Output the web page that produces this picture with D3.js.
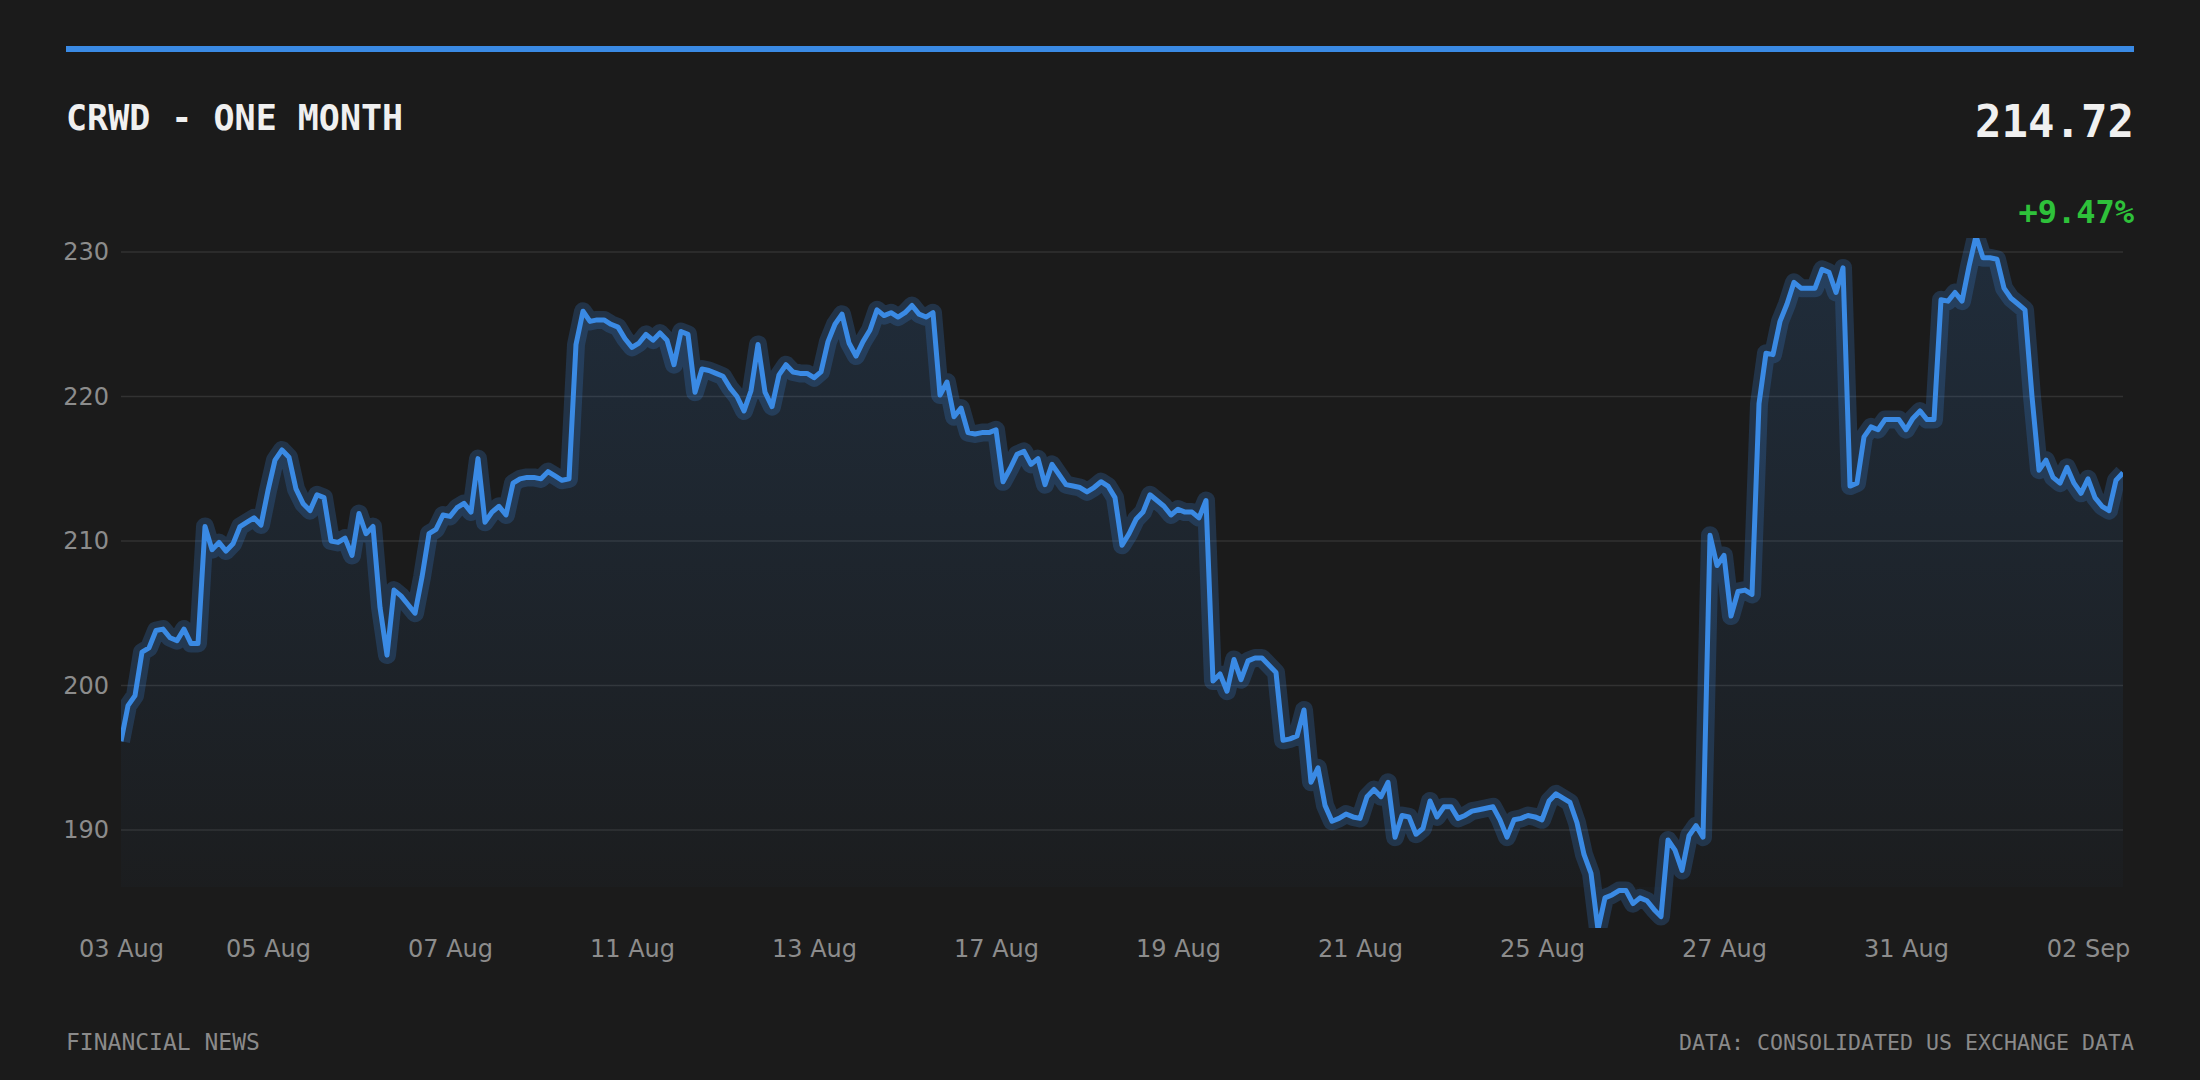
<!DOCTYPE html>
<html>
<head>
<meta charset="utf-8">
<script src="https://cdn.jsdelivr.net/npm/d3@7"></script>
<style>
  html, body { margin: 0; padding: 0; background: #1b1b1b; }
  svg { display: block; }
</style>
</head>
<body>
<svg id="chart" width="2200" height="1080"></svg>
<script>
// Trading sessions shown on the chart and how many 30-min bars each one has
const sessions = ['03 Aug', '04 Aug', '05 Aug', '06 Aug', '07 Aug', '10 Aug', '11 Aug', '12 Aug',
    '13 Aug', '14 Aug', '17 Aug', '18 Aug', '19 Aug', '20 Aug', '21 Aug', '24 Aug', '25 Aug',
    '26 Aug', '27 Aug', '28 Aug', '31 Aug', '01 Sep', '02 Sep'];
const sessionBars = [8, 13, 13, 13, 13, 13, 13, 13, 13, 13, 13, 13, 13, 13, 13, 13, 13, 13, 13, 13, 13, 13, 6];

// Close of each bar
const prices = [
    196.14, 198.6, 199.3, 202.3, 202.6, 203.8, 203.9, 203.3,
    203.1, 203.9, 202.9, 202.9, 211.0, 209.4, 209.9, 209.3, 209.8, 211.0, 211.3, 211.6, 211.1,
    213.5, 215.6, 216.3, 215.8, 213.6, 212.6, 212.1, 213.2, 213.0, 210.0, 209.9, 210.2, 209.0,
    211.9, 210.5, 211.0, 205.4, 202.1, 206.6, 206.2, 205.6, 205.0, 207.5, 210.5, 210.8, 211.8,
    211.7, 212.3, 212.6, 212.0, 215.7, 211.3, 212.0, 212.4, 211.8, 214.0, 214.3, 214.4, 214.4,
    214.3, 214.8, 214.5, 214.2, 214.3, 223.6, 225.9, 225.2, 225.3, 225.3, 225.0, 224.8, 224.0,
    223.4, 223.7, 224.3, 223.9, 224.4, 223.9, 222.2, 224.5, 224.3, 220.3, 221.9, 221.8, 221.6,
    221.4, 220.6, 220.0, 219.0, 220.4, 223.6, 220.3, 219.3, 221.5, 222.2, 221.7, 221.6, 221.6,
    221.3, 221.7, 223.8, 225.0, 225.7, 223.7, 222.8, 223.8, 224.6, 226.0, 225.6, 225.8, 225.5,
    225.8, 226.3, 225.7, 225.5, 225.8, 220.1, 221.0, 218.6, 219.2, 217.5, 217.4, 217.5, 217.5,
    217.7, 214.1, 215.0, 216.0, 216.2, 215.3, 215.7, 213.9, 215.3, 214.6, 213.9, 213.8, 213.7,
    213.4, 213.7, 214.1, 213.8, 213.0, 209.7, 210.5, 211.5, 212.0, 213.2, 212.8, 212.4, 211.8,
    212.2, 212.0, 212.0, 211.6, 212.8, 200.3, 200.8, 199.6, 201.8, 200.4, 201.7, 201.9, 201.9,
    201.4, 200.9, 196.2, 196.3, 196.5, 198.3, 193.3, 194.3, 191.7, 190.6, 190.8, 191.1, 190.9,
    190.8, 192.3, 192.8, 192.3, 193.3, 189.5, 191.0, 190.9, 189.7, 190.1, 192.0, 190.9, 191.6,
    191.6, 190.8, 191.0, 191.3, 191.4, 191.5, 191.6, 190.7, 189.5, 190.7, 190.8, 191.0, 190.9,
    190.7, 192.0, 192.5, 192.2, 191.9, 190.5, 188.3, 187.0, 183.1, 185.3, 185.5, 185.8, 185.8,
    184.9, 185.3, 185.1, 184.5, 184.0, 189.3, 188.6, 187.2, 189.6, 190.3, 189.5, 210.4, 208.3,
    209.0, 204.8, 206.5, 206.6, 206.3, 219.5, 223.0, 222.9, 225.2, 226.4, 227.9, 227.5, 227.5,
    227.5, 228.8, 228.6, 227.2, 228.9, 213.8, 214.0, 217.2, 217.9, 217.7, 218.4, 218.4, 218.4,
    217.7, 218.5, 219.0, 218.4, 218.4, 226.7, 226.6, 227.2, 226.6, 229.0, 231.1, 229.6, 229.6,
    229.5, 227.5, 226.8, 226.4, 226.0, 220.0, 214.9, 215.6, 214.4, 214.0, 215.1, 214.0, 213.3,
    214.3, 213.0, 212.4, 212.1, 214.2, 214.72
];

const yTicks = [190, 200, 210, 220, 230];
const yDomain = [186.05, 230.97];

const titleText = 'CRWD - ONE MONTH';
const lastPriceText = '214.72';
const changeText = '+9.47%';
const sourceLeft = 'FINANCIAL NEWS';
const sourceRight = 'DATA: CONSOLIDATED US EXCHANGE DATA';

const blue = '#3a8ae4';
const mono = "'DejaVu Sans Mono', monospace";
const sans = "'DejaVu Sans', sans-serif";

const svg = d3.select('#chart');

// plot box
const plotLeft = 121, plotRight = 2123;
const plotTop = 238, plotBottom = 928, areaBase = 887;

const x = d3.scaleLinear()
    .domain([0, prices.length - 1])
    .range([plotLeft, plotRight]);

const y = d3.scaleLinear()
    .domain(yDomain)
    .range([areaBase, plotTop]);

// first bar index of every session, ticks on every other session
const sessionStart = [];
sessionBars.reduce((acc, n, i) => { sessionStart[i] = acc; return acc + n; }, 0);
const tickIdx = sessionStart.filter((s, i) => i % 2 === 0);
const tickLabel = {};
sessions.forEach((s, i) => { tickLabel[sessionStart[i]] = s; });

// Header
svg.append('rect')
    .attr('x', 66).attr('y', 46)
    .attr('width', 2134 - 66).attr('height', 6)
    .attr('fill', blue);

svg.append('text')
    .attr('x', 66).attr('y', 130)
    .attr('font-family', mono).attr('font-weight', 'bold')
    .attr('font-size', 35).attr('fill', '#f0f0f0')
    .text(titleText);

svg.append('text')
    .attr('x', 2134).attr('y', 137)
    .attr('text-anchor', 'end')
    .attr('font-family', mono).attr('font-weight', 'bold')
    .attr('font-size', 44).attr('fill', '#f0f0f0')
    .text(lastPriceText);

svg.append('text')
    .attr('x', 2134).attr('y', 223)
    .attr('text-anchor', 'end')
    .attr('font-family', mono).attr('font-weight', 'bold')
    .attr('font-size', 32).attr('fill', '#2ec13a')
    .text(changeText);

// Gridlines
svg.append('g')
    .selectAll('line')
    .data(yTicks)
    .enter()
    .append('line')
    .attr('x1', plotLeft).attr('x2', plotRight)
    .attr('y1', d => y(d)).attr('y2', d => y(d))
    .attr('stroke', '#ffffff')
    .attr('stroke-opacity', 0.1)
    .attr('stroke-width', 1.5);

// Axes
const yAxis = svg.append('g')
    .attr('transform', `translate(${plotLeft},0)`)
    .call(d3.axisLeft(y).tickValues(yTicks).tickSize(0).tickPadding(12));
yAxis.select('.domain').remove();
yAxis.selectAll('text')
    .attr('font-family', sans).attr('font-size', 24).attr('fill', '#8c8c8c');

const xAxis = svg.append('g')
    .attr('transform', `translate(0,${plotBottom})`)
    .call(d3.axisBottom(x).tickValues(tickIdx).tickFormat(i => tickLabel[i]).tickSize(0).tickPadding(12));
xAxis.select('.domain').remove();
xAxis.selectAll('text')
    .attr('font-family', sans).attr('font-size', 24).attr('fill', '#8c8c8c');

// Clip and fill for the series
const defs = svg.append('defs');
defs.append('clipPath')
    .attr('id', 'plot-clip')
    .append('rect')
    .attr('x', plotLeft).attr('y', plotTop)
    .attr('width', plotRight - plotLeft).attr('height', plotBottom - plotTop);

const grad = defs.append('linearGradient')
    .attr('id', 'area-fill')
    .attr('gradientUnits', 'userSpaceOnUse')
    .attr('x1', 0).attr('x2', 0)
    .attr('y1', plotTop).attr('y2', areaBase);
grad.append('stop').attr('offset', 0).attr('stop-color', blue).attr('stop-opacity', 0.16);
grad.append('stop').attr('offset', 1).attr('stop-color', blue).attr('stop-opacity', 0.02);

const series = svg.append('g').attr('clip-path', 'url(#plot-clip)');

const area = d3.area()
    .x((d, i) => x(i))
    .y0(areaBase)
    .y1(d => y(d));

const line = d3.line()
    .x((d, i) => x(i))
    .y(d => y(d));

series.append('path')
    .datum(prices)
    .attr('d', area)
    .attr('fill', 'url(#area-fill)');

// soft glow under the line
series.append('path')
    .datum(prices)
    .attr('d', line)
    .attr('fill', 'none')
    .attr('stroke', blue)
    .attr('stroke-opacity', 0.22)
    .attr('stroke-width', 18)
    .attr('stroke-linejoin', 'round');

series.append('path')
    .datum(prices)
    .attr('d', line)
    .attr('fill', 'none')
    .attr('stroke', blue)
    .attr('stroke-width', 5)
    .attr('stroke-linejoin', 'round');

// Footer
svg.append('text')
    .attr('x', 66).attr('y', 1050)
    .attr('font-family', mono).attr('font-size', 23).attr('fill', '#8a8a8a')
    .text(sourceLeft);

svg.append('text')
    .attr('x', 2134).attr('y', 1050)
    .attr('text-anchor', 'end')
    .attr('font-family', mono).attr('font-size', 21.6).attr('fill', '#8a8a8a')
    .text(sourceRight);
</script>
</body>
</html>
